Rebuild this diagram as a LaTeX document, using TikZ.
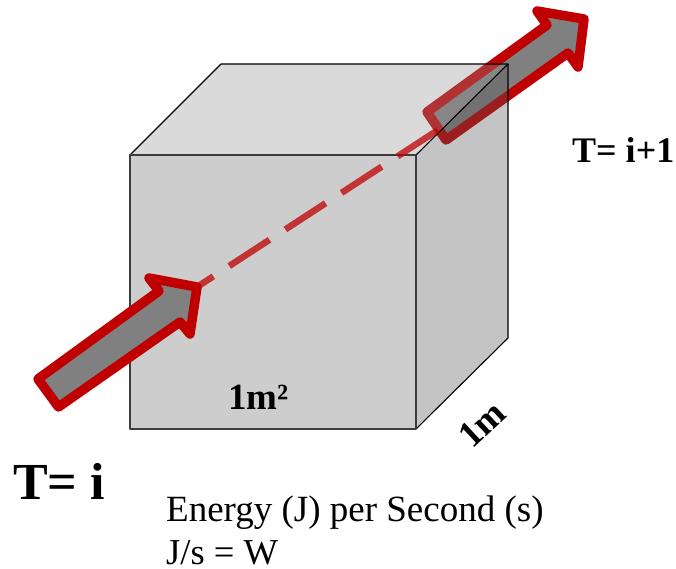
\documentclass[tikz,border=0pt]{standalone}
\usepackage{fontspec}
\setmainfont{Liberation Serif}
\definecolor{arrowred}{RGB}{192,0,0}
\definecolor{frontgray}{RGB}{205,205,205}
\definecolor{topveil}{RGB}{147,147,147}
\definecolor{sideveil}{RGB}{86,86,86}
\definecolor{frontedge}{RGB}{60,60,60}
\tikzset{
  edge/.style={draw=black,line width=1.1pt,line join=round},
  frontline/.style={draw=frontedge,line width=1.7pt,line join=round},
  bigarrow/.style={draw=arrowred,fill=black!50,line width=9.5pt,line join=round},
  dashline/.style={draw=arrowred,draw opacity=.75,line width=6.5pt,dash pattern=on 48pt off 19pt,dash phase=28.5pt},
  lbl/.style={inner sep=0pt,anchor=base west}
}
\begin{document}
\begin{tikzpicture}[x=1pt,y=-1pt]
\useasboundingbox (0,0) rectangle (676,569);
\coordinate (ftl) at (130,155);
\coordinate (ftr) at (416,155);
\coordinate (fbr) at (416,429);
\coordinate (fbl) at (130,429);
\coordinate (btl) at (221,64);
\coordinate (btr) at (508,64);
\coordinate (bbr) at (508,338);
\fill[frontgray] (ftl)--(ftr)--(fbr)--(fbl)--cycle;
% upper arrow (behind the translucent cube faces)
\draw[bigarrow] (427,112)--(547,25)--(537,11)--(584,19)--(578,67)--(568,53)--(446,140)--cycle;
\fill[topveil,opacity=.34] (ftl)--(btl)--(btr)--(ftr)--cycle;
\fill[sideveil,opacity=.35] (ftr)--(btr)--(bbr)--(fbr)--cycle;
\draw[edge] (ftl)--(btl)--(btr)--(bbr)--(fbr);
\draw[edge] (ftr)--(btr);
\draw[frontline] (ftl)--(ftr)--(fbr)--(fbl)--cycle;
% lower arrow
\draw[bigarrow] (38,379)--(159,291)--(149,278)--(197,287)--(190,334)--(180,322)--(58.5,407)--cycle;
% dashed path through the cube
\coordinate (dstart) at (197,287);
\coordinate (dend) at (438,130);
\draw[dashline] (dstart)--(dend);
\node[lbl,font=\bfseries\fontsize{52}{52}\selectfont] (ti) at (13,499) {T= i};
\node[lbl,font=\bfseries\fontsize{36}{36}\selectfont] (ti1) at (572,163) {T= i+1};
\node[lbl,font=\bfseries\fontsize{37}{37}\selectfont] (area) at (228,409) {1m²};
\node[lbl,font=\bfseries\fontsize{37}{37}\selectfont,anchor=center,rotate=43] (len) at (482,424) {1m};
\node[lbl,font=\fontsize{37}{37}\selectfont] (energy) at (166,521) {Energy (J) per Second (s)};
\node[lbl,font=\fontsize{36.5}{36.5}\selectfont] (watt) at (166,564) {J/s = W};
\end{tikzpicture}
\end{document}
